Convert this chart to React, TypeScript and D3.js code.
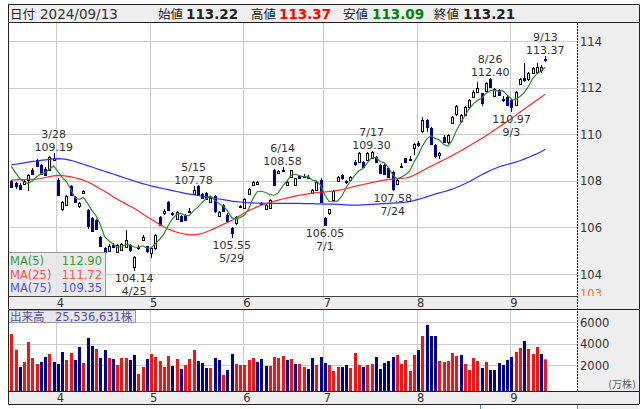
import React from "react";
import * as d3 from "d3";

// ---------- data ----------
const opens = [
  108.00,107.90,107.80,107.88,108.05,108.45,108.88,108.68,108.50,108.45,108.90,
  108.05,106.80,106.95,107.78,107.30,106.90,107.48,106.75,106.40,106.30,105.60,105.10,105.00,105.25,104.95,105.05,105.17,105.25,104.30,105.13,105.45,105.20,
  104.90,105.10,106.46,106.62,107.10,106.62,106.38,106.48,106.53,106.65,107.45,107.78,107.45,107.48,107.10,107.35,106.50,106.95,106.55,105.96,106.17,106.88,
  106.82,107.43,107.82,107.85,107.05,106.80,106.85,108.46,108.32,108.44,107.82,108.18,107.82,108.21,108.18,108.18,107.46,107.60,108.03,
  106.40,106.60,107.18,107.98,108.25,108.00,108.03,108.82,108.82,108.82,108.89,109.00,109.04,108.68,108.68,108.53,108.39,107.85,108.62,108.96,108.90,109.40,
  109.62,110.12,110.61,110.25,109.55,109.10,109.90,109.65,110.46,110.87,110.55,110.83,111.15,111.58,111.82,111.75,111.87,112.38,111.62,111.90,111.52,111.61,
  111.47,111.25,112.15,112.40,112.35,112.62,112.68,112.76,113.22,
];
const highs = [
  108.05,107.95,107.90,108.05,108.30,108.55,108.92,108.72,108.60,109.05,109.19,
  108.10,107.15,107.40,107.80,107.35,107.10,107.62,106.80,106.45,106.35,105.65,105.15,105.30,105.35,105.30,105.35,105.88,105.30,104.78,105.25,105.68,105.22,
  105.15,105.72,106.50,106.80,107.15,106.68,106.72,106.52,106.58,106.85,107.78,107.80,107.48,107.52,107.30,107.40,106.70,107.00,106.60,106.00,106.50,106.98,
  107.25,107.68,107.98,107.98,107.10,107.00,107.22,108.50,108.45,108.58,108.00,108.48,108.12,108.25,108.28,108.25,107.65,108.00,108.10,
  106.45,106.80,107.62,108.20,108.30,108.05,108.22,108.88,109.22,108.85,109.22,109.30,109.08,108.72,108.70,108.55,108.42,108.08,108.78,109.00,109.05,109.62,
  109.70,110.72,110.65,110.30,109.60,109.22,109.95,110.00,110.76,111.25,110.85,111.22,111.50,111.88,112.25,111.78,112.22,112.40,111.98,111.95,111.62,111.65,
  111.50,111.85,112.40,113.05,112.68,112.90,113.05,112.95,113.37,
];
const lows = [
  107.68,107.65,107.60,107.85,107.55,108.25,108.60,108.25,108.20,108.40,108.85,
  107.35,106.70,106.90,107.35,107.05,106.85,107.45,105.95,105.80,105.90,105.15,104.85,104.95,105.10,104.90,105.00,105.10,104.95,104.14,105.05,105.42,104.92,
  104.68,105.05,106.05,106.55,106.70,106.50,106.35,106.25,106.30,106.60,107.40,107.35,107.22,107.20,107.05,106.62,106.45,106.68,106.20,105.55,106.10,106.82,
  106.78,107.40,107.78,107.80,106.95,106.75,106.80,107.78,108.28,108.38,107.78,108.15,107.80,108.08,108.12,108.10,107.42,107.55,107.05,
  106.05,106.55,107.15,107.95,108.05,107.88,108.00,108.65,108.78,108.58,108.85,108.95,108.80,108.30,108.25,108.15,107.58,107.80,108.55,108.78,108.85,109.10,
  109.45,110.05,110.10,109.55,108.98,108.95,109.62,109.60,110.42,110.80,110.50,110.80,111.10,111.55,111.78,111.20,111.82,112.00,111.58,111.65,111.40,111.22,
  110.97,111.20,112.10,112.25,112.30,112.58,112.60,112.62,113.09,
];
const closes = [
  107.72,107.78,107.65,108.00,108.25,108.30,108.65,108.30,108.25,109.02,109.00,
  107.40,107.10,107.35,107.39,107.10,107.05,107.58,106.05,105.85,105.95,105.20,104.95,105.20,105.15,105.25,105.27,105.48,105.05,104.75,105.15,105.60,104.98,
  105.10,105.68,106.10,106.70,106.75,106.58,106.68,106.27,106.32,106.70,107.62,107.40,107.28,107.22,107.26,106.70,106.65,106.72,106.28,105.75,106.46,106.90,
  107.20,107.63,107.96,107.95,107.00,106.95,107.18,107.82,108.43,108.46,107.96,108.46,108.10,108.11,108.20,108.15,107.61,107.95,107.10,
  106.10,106.77,107.58,108.15,108.10,107.96,108.18,108.72,109.18,108.61,109.18,109.25,108.82,108.32,108.28,108.18,107.63,108.03,108.65,108.82,108.93,109.58,
  109.52,110.61,110.32,109.60,109.05,109.18,109.68,109.96,110.72,111.21,110.82,111.18,111.47,111.82,111.97,111.33,112.18,112.04,111.93,111.70,111.50,111.25,
  111.18,111.80,112.35,112.33,112.61,112.82,112.90,112.88,113.21,
];
const prevClose = 107.6;
// volume in 万株
const volumes = [
  4912,3455,1843,2308,4168,2680,2122,2308,2773,3052,2308,
  2122,3238,2494,3145,2494,3703,2215,4540,3796,3517,2680,3424,2680,2587,2029,2680,2680,2494,2959,1192,1843,2587,
  3052,2773,2401,1843,2866,1936,2587,1657,2029,2587,3424,2401,2215,1750,1750,2680,2494,1099,1564,3052,2122,2029,
  2029,2494,2680,2308,2587,1936,1936,2773,2680,2866,2494,2587,2122,2122,1843,1657,2680,2029,2773,
  2215,2029,1471,1843,1843,2029,1750,3145,2029,1843,2029,2122,2773,1657,2215,2401,2773,2959,2122,2494,1471,2959,
  3424,4726,5749,4726,4726,2401,2308,2401,3145,2866,2959,2122,1564,2680,2401,1750,2308,1564,1564,2215,2029,2494,
  2773,3238,3610,4261,3517,3052,3703,3052,2554,
];
const ma5 = [
  108.62,108.35,108.10,107.95,107.88,108.00,108.17,108.30,108.35,108.50,108.64,
  108.39,108.15,107.97,107.65,107.27,107.20,107.29,107.03,106.73,106.50,106.13,105.60,105.43,105.29,105.15,105.17,105.27,105.24,105.16,105.14,105.21,105.11,
  105.12,105.30,105.49,105.71,106.07,106.36,106.56,106.60,106.52,106.51,106.72,106.86,107.06,107.24,107.36,107.17,107.02,106.91,106.72,106.42,106.37,106.42,
  106.52,106.79,107.23,107.53,107.55,107.50,107.41,107.38,107.48,107.77,107.97,108.23,108.28,108.22,108.17,108.20,108.03,108.00,107.80,
  107.38,107.11,107.10,107.14,107.34,107.71,107.99,108.22,108.43,108.53,108.77,108.99,109.01,108.84,108.77,108.57,108.25,108.09,108.15,108.26,108.41,108.80,
  109.10,109.49,109.79,109.93,109.82,109.75,109.57,109.49,109.72,110.15,110.48,110.78,111.08,111.30,111.45,111.55,111.75,111.87,111.89,111.84,111.87,111.68,
  111.51,111.49,111.62,111.78,112.05,112.38,112.60,112.71,112.88,
];
const ma25 = [
  108.03,108.04,108.05,108.05,108.06,108.06,108.07,108.10,108.14,108.18,108.21,
  108.22,108.22,108.20,108.17,108.13,108.08,108.03,
  107.95,107.86,107.76,107.65,107.55,107.44,107.32,107.21,107.11,107.01,106.91,106.82,
  106.70,106.58,106.46,106.35,106.24,106.13,106.02,105.93,105.86,105.80,105.75,105.71,105.68,
  105.68,105.70,105.74,105.80,105.88,105.96,106.05,106.13,106.21,106.30,106.40,106.51,106.62,
  106.72,106.80,106.88,106.95,107.01,107.07,107.12,107.17,107.22,107.26,107.30,107.34,107.38,107.41,107.44,107.47,107.49,
  107.51,107.52,107.54,107.56,107.59,107.62,107.66,107.71,107.76,107.80,107.84,107.88,107.92,107.96,108.00,108.03,108.06,108.07,108.08,108.10,108.12,108.16,108.24,
  108.33,108.43,108.53,108.62,108.71,108.80,108.89,108.98,109.08,109.18,109.28,109.38,109.49,109.60,109.71,109.82,109.93,110.05,110.18,110.30,110.42,110.54,110.66,110.80,110.94,111.07,111.20,111.33,111.46,111.59,111.72,
];
const ma75 = [
  108.68,108.71,108.74,108.77,108.80,108.83,108.85,108.88,108.90,108.92,108.94,
  108.95,108.94,108.92,108.88,108.83,108.77,108.71,108.65,108.59,108.53,
  108.47,108.41,108.35,108.29,108.23,108.17,108.11,108.05,107.99,107.93,
  107.88,107.83,107.78,107.74,107.70,107.66,107.62,107.58,107.54,107.50,
  107.46,107.43,107.40,107.37,107.34,107.31,107.28,107.25,107.22,107.19,
  107.16,107.13,107.11,107.09,107.07,107.06,107.05,107.04,107.04,107.03,
  107.03,107.03,107.03,107.03,107.03,107.03,107.03,107.03,107.02,107.02,107.02,107.01,107.01,107.00,107.00,
  107.00,106.99,106.98,106.97,106.96,106.96,106.96,106.97,106.98,106.99,107.00,107.01,107.02,107.03,107.04,
  107.05,107.06,107.08,107.11,107.15,107.20,107.25,107.31,107.37,107.43,
  107.48,107.53,107.58,107.64,107.71,107.79,107.87,107.96,108.06,108.16,
  108.26,108.35,108.44,108.52,108.59,108.65,108.70,108.75,108.80,108.86,
  108.93,109.00,109.08,109.16,109.25,109.35,
];

const monthTicks = [
  { label: "4", index: 11 },
  { label: "5", index: 33 },
  { label: "6", index: 55 },
  { label: "7", index: 74 },
  { label: "8", index: 96 },
  { label: "9", index: 118 },
];
const priceTicks = [104, 106, 108, 110, 112, 114];
const priceMinLabel = 103;
const volumeTicks = [2000, 4000, 6000];

const highNotes = [
  { index: 10, date: "3/28", value: "109.19" },
  { index: 43, date: "5/15", value: "107.78" },
  { index: 64, date: "6/14", value: "108.58" },
  { index: 85, date: "7/17", value: "109.30" },
  { index: 113, date: "8/26", value: "112.40" },
  { index: 126, date: "9/13", value: "113.37" },
];
const lowNotes = [
  { index: 29, date: "4/25", value: "104.14" },
  { index: 52, date: "5/29", value: "105.55" },
  { index: 74, date: "7/1", value: "106.05" },
  { index: 90, date: "7/24", value: "107.58" },
  { index: 118, date: "9/3", value: "110.97" },
];

const legendLabels = ["MA(5)", "MA(25)", "MA(75)"];
const legendValues = ["112.90", "111.72", "109.35"];
const headerDate = "2024/09/13";
const headerLabels = ["始値", "高値", "安値", "終値"];
const headerValues = ["113.22", "113.37", "113.09", "113.21"];
const volumeTitle = "出来高";
const volumeValue = "25,536,631株";
const volumeUnit = "(万株)";

// ---------- styles ----------
const FONT = "'DejaVu Sans', 'Noto Sans CJK JP', sans-serif";
const UP_COL = "#000000";
const DOWN_COL = "#000090";
const VOL_UP = "#ff1010";
const VOL_DOWN = "#000098";
const MA_COLORS = ["#2a8a2a", "#ff2a2a", "#2f2fff"];
const LEGEND_TEXT = ["#3a9a3a", "#ff5050", "#5050ff"];
const GRID = "#cccccc";
const PANEL_BG = "#eeeeee";
const TEXT = "#333333";

export default function App() {
  const W = 641, H = 409;
  const L = 8, PR = 577, R = 639.5;
  const headTop = 4.5, pTop = 23, pBot = 296, vTop = 309, vBot = 391, sBot = 404;

  const n = closes.length;
  const x = d3.scaleLinear().domain([0, n - 1]).range([11.3, 545.3]);
  const y = d3.scaleLinear().domain([103, 114]).range([297.3, 41]);
  const vy = d3.scaleLinear().domain([0, 6000]).range([386.8, 322.3]);
  const crisp = (v: number) => Math.round(v) + 0.5;

  const maLine = (arr: number[]) =>
    d3.line<number>().x((_, i) => x(i)).y((d) => y(d))(arr) || "";

  const headerX = [158, 251, 343, 434];
  const headerValX = [186, 279, 372, 463];
  const headerValColor = ["#222", "#ff0000", "#008000", "#222"];
  const noteSize = 11;

  return (
    <svg
      width={W}
      height={H}
      viewBox={`0 0 ${W} ${H}`}
      style={{ position: "absolute", left: 0, top: 0, fontFamily: FONT }}
    >
      <defs>
        <clipPath id="priceClip">
          <rect x={L} y={pTop} width={PR - L} height={pBot - pTop} />
        </clipPath>
        <clipPath id="axisClip">
          <rect x={PR} y={pTop} width={R - PR} height={pBot - pTop} />
        </clipPath>
      </defs>
      <rect x={0} y={0} width={W} height={H} fill="#fff" />
      {/* header */}
      <rect x={L} y={headTop} width={R - L} height={pTop - headTop} fill={PANEL_BG} />
      <text x={10} y={18.5} fontSize={12.5} fill="#222">日付</text>
      <text x={40} y={18.5} fontSize={13.5} fill={TEXT}>{headerDate}</text>
      {headerLabels.map((t, k) => (
        <g key={t}>
          <text x={headerX[k]} y={18.5} fontSize={12.5} fill="#222">{t}</text>
          <text x={headerValX[k]} y={18.5} fontSize={13.5} fontWeight="bold" fill={headerValColor[k]}>
            {headerValues[k]}
          </text>
        </g>
      ))}

      {/* panels */}
      <rect x={L} y={pTop} width={PR - L} height={pBot - pTop} fill="#fff" />
      <rect x={PR} y={pTop} width={R - PR} height={sBot - pTop} fill={PANEL_BG} />
      <rect x={L} y={pBot} width={PR - L} height={vTop - pBot} fill={PANEL_BG} />
      <rect x={L} y={vTop} width={PR - L} height={vBot - vTop} fill="#fff" />
      <rect x={L} y={vBot} width={PR - L} height={sBot - vBot} fill={PANEL_BG} />

      {/* price grid */}
      {priceTicks.map((p) => (
        <line key={p} x1={L} x2={PR} y1={crisp(y(p))} y2={crisp(y(p))} stroke={GRID} />
      ))}
      {monthTicks.map((m) => (
        <line key={m.label} x1={crisp(x(m.index) - 1.5)} x2={crisp(x(m.index) - 1.5)} y1={pTop} y2={pBot} stroke={GRID} />
      ))}

      {/* candles */}
      <g clipPath="url(#priceClip)">
        {closes.map((c, i) => {
          const o = opens[i];
          const up = c >= o;
          const col = up ? UP_COL : DOWN_COL;
          const cx = Math.round(x(i));
          const bt = Math.round(y(Math.max(o, c)));
          const bb = Math.max(Math.round(y(Math.min(o, c))), bt + 1);
          return (
            <g key={i}>
              <line x1={cx + 0.5} x2={cx + 0.5} y1={Math.round(y(highs[i]))} y2={Math.round(y(lows[i]))} stroke={col} />
              <rect x={cx - 0.5} y={bt + 0.5} width={2} height={bb - bt} fill={up ? "#fff" : DOWN_COL} stroke={col} />
            </g>
          );
        })}
        {[ma75, ma25, ma5].map((arr, k) => (
          <path key={k} d={maLine(arr)} fill="none" stroke={MA_COLORS[2 - k]} strokeWidth={1.2} />
        ))}
        {highNotes.map((a) => (
          <g key={a.date} fontSize={noteSize} fill={TEXT} textAnchor="middle">
            <text x={x(a.index)} y={y(highs[a.index]) - 15}>{a.date}</text>
            <text x={x(a.index)} y={y(highs[a.index]) - 2}>{a.value}</text>
          </g>
        ))}
        {lowNotes.map((a) => (
          <g key={a.date} fontSize={noteSize} fill={TEXT} textAnchor="middle">
            <text x={x(a.index)} y={y(lows[a.index]) + 11}>{a.value}</text>
            <text x={x(a.index)} y={y(lows[a.index]) + 24}>{a.date}</text>
          </g>
        ))}
        {/* MA legend */}
        <rect x={L + 0.5} y={252.5} width={97} height={44} fill="#e6e6e6" fillOpacity={0.88} stroke="#9a9a9a" />
        {legendLabels.map((t, k) => (
          <g key={t} fontSize={11.5} fill={LEGEND_TEXT[k]}>
            <text x={10} y={265 + k * 13.6}>{t}</text>
            <text x={102} y={265 + k * 13.6} textAnchor="end">{legendValues[k]}</text>
          </g>
        ))}
      </g>

      {/* price axis labels */}
      {priceTicks.map((p) => (
        <text key={p} x={580} y={y(p) + 4.5} fontSize={11.5} fill={TEXT}>{p}</text>
      ))}
      <g clipPath="url(#axisClip)">
        <text x={580} y={y(priceMinLabel) + 0.7} fontSize={11.5} fill="#ff6a2a">{priceMinLabel}</text>
      </g>

      {/* volume grid */}
      {volumeTicks.map((v) => (
        <line key={v} x1={L} x2={PR} y1={crisp(vy(v))} y2={crisp(vy(v))} stroke={GRID} />
      ))}
      {monthTicks.map((m) => (
        <line key={m.label} x1={crisp(x(m.index) - 1.5)} x2={crisp(x(m.index) - 1.5)} y1={vTop} y2={vBot} stroke={GRID} />
      ))}
      {volumes.map((v, i) => {
        const prev = i === 0 ? prevClose : closes[i - 1];
        const up = closes[i] > prev;
        const cx = Math.round(x(i));
        const top = vy(v);
        return <rect key={i} x={cx - 1} y={top} width={3} height={vBot - top} fill={up ? VOL_UP : VOL_DOWN} />;
      })}
      <rect x={L + 0.5} y={310.5} width={127} height={12} fill="#e6e6e6" fillOpacity={0.9} stroke="#9a9a9a" />
      <text x={10} y={320.5} fontSize={11.5} fill="#5050a8">{volumeTitle}</text>
      <text x={55} y={320.5} fontSize={11.5} fill="#5050a8">{volumeValue}</text>
      {volumeTicks.map((v) => (
        <text key={v} x={580} y={vy(v) + 4.5} fontSize={11.5} fill={TEXT}>{v}</text>
      ))}
      <text x={636} y={388} fontSize={10} fill="#666" textAnchor="end">{volumeUnit}</text>

      {/* month labels */}
      {monthTicks.map((m) => (
        <g key={m.label} fontSize={11.5} fill={TEXT} textAnchor="middle">
          <text x={x(m.index) + 2.5} y={306.5}>{m.label}</text>
          <text x={x(m.index) + 2.5} y={401.5}>{m.label}</text>
        </g>
      ))}

      {/* frame lines */}
      <line x1={L} x2={R} y1={headTop} y2={headTop} stroke="#222" />
      <line x1={L} x2={R} y1={pTop - 0.5} y2={pTop - 0.5} stroke="#222" />
      <line x1={L} x2={PR} y1={pBot + 0.5} y2={pBot + 0.5} stroke="#444" />
      <line x1={L} x2={R} y1={vTop + 0.5} y2={vTop + 0.5} stroke="#222" />
      <line x1={L} x2={R} y1={vBot + 0.5} y2={vBot + 0.5} stroke="#222" />
      <line x1={L} x2={R} y1={sBot + 0.5} y2={sBot + 0.5} stroke="#222" />
      <line x1={L + 0.5} x2={L + 0.5} y1={headTop} y2={sBot} stroke="#222" />
      <line x1={R} x2={R} y1={headTop} y2={sBot} stroke="#222" />
      <line x1={PR + 0.5} x2={PR + 0.5} y1={pTop} y2={vBot} stroke="#222" strokeDasharray="2,1" />
      <rect x={PR + 1} y={sBot + 1} width={R - PR - 1} height={H - sBot - 1} fill={PANEL_BG} />
      <line x1={480.5} x2={480.5} y1={sBot + 1} y2={H} stroke="#3aa0d0" />
      <line x1={PR + 0.5} x2={PR + 0.5} y1={sBot + 1} y2={H} stroke="#3aa0d0" />
    </svg>
  );
}
